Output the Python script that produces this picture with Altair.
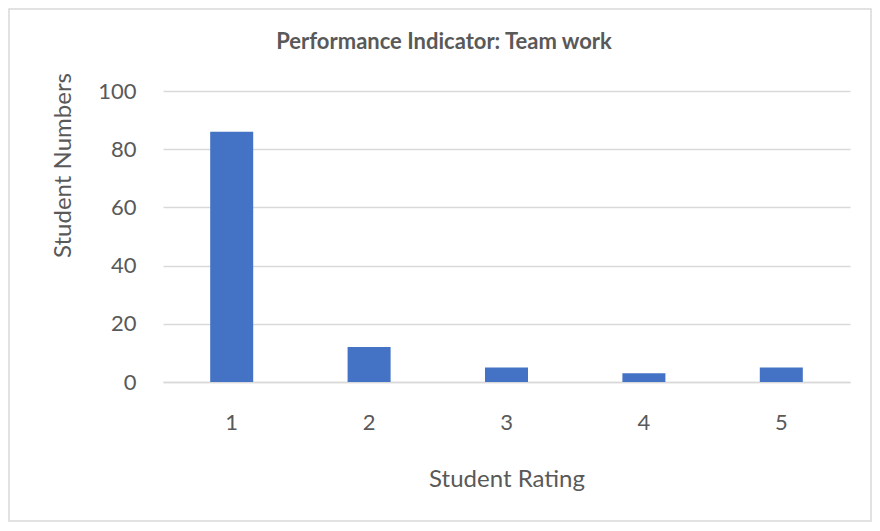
import altair as alt
import pandas as pd

ratings = ["1", "2", "3", "4", "5"]
counts = [86, 12, 5, 3, 5]
y_ticks = [0, 20, 40, 60, 80, 100]
chart_title = "Performance Indicator: Team work"

df = pd.DataFrame({"rating": ratings, "count": counts})

TXT = "#595959"
GRID = "#d9d9d9"
FONT = "Lato"

bars = alt.Chart(df).mark_bar(color="#4472C4").encode(
    x=alt.X(
        "rating:O",
        sort=ratings,
        scale=alt.Scale(paddingInner=0.687, paddingOuter=0.3435),
        axis=alt.Axis(
            title="Student Rating",
            labelAngle=0,
            ticks=False,
            domain=True,
            domainColor=GRID,
            domainWidth=1.3,
            labelPadding=30,
            labelFontSize=22,
            labelColor=TXT,
            labelFont=FONT,
            titleFontSize=24,
            titleFont=FONT,
            titleFontWeight="normal",
            titleColor=TXT,
            titleY=97,
            titleBaseline="middle",
        ),
    ),
    y=alt.Y(
        "count:Q",
        scale=alt.Scale(domain=[0, 100], nice=False),
        axis=alt.Axis(
            title="Student Numbers",
            values=y_ticks,
            ticks=False,
            domain=False,
            grid=True,
            gridColor=GRID,
            gridWidth=1.3,
            labelPadding=27,
            labelFontSize=22,
            labelColor=TXT,
            labelFont=FONT,
            titleFontSize=24,
            titleFont=FONT,
            titleFontWeight="normal",
            titleColor=TXT,
            titleX=-100,
            titleY=74,
            titleBaseline="middle",
        ),
    ),
)

border = alt.Chart(alt.Data(values=[{}])).mark_rect(
    fill="transparent", stroke=GRID, strokeWidth=1.5
).encode(
    x=alt.value(-154), x2=alt.value(708), y=alt.value(-82), y2=alt.value(430)
)

title = alt.Chart(alt.Data(values=[{"t": chart_title}])).mark_text(
    font=FONT, fontSize=22, fontWeight="bold", color=TXT,
    align="center", baseline="middle"
).encode(
    x=alt.value(281), y=alt.value(-49), text="t:N"
)

chart = alt.layer(border, bars, title).properties(
    width=687,
    height=291,
    padding={"left": 155, "top": 83, "right": 22, "bottom": 140},
    autosize=alt.AutoSizeParams(type="none"),
    background="white",
).configure_view(stroke=None)

chart.save("out.html", embed_options={"renderer": "svg", "actions": False})
